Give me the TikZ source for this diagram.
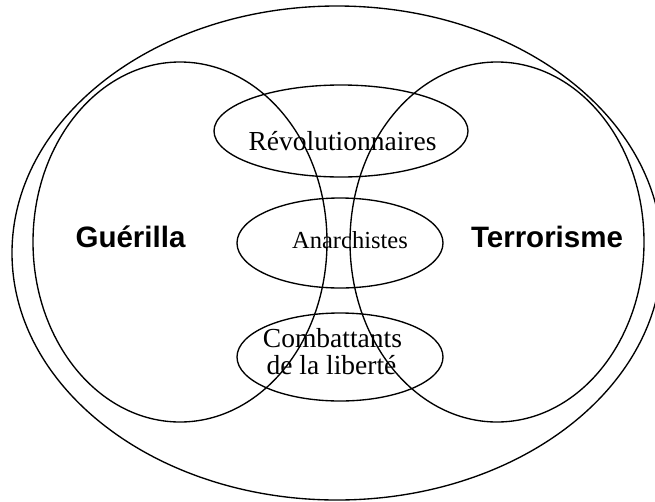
\documentclass[tikz,border=0pt]{standalone}
\usepackage{fontspec}
\setmainfont{Liberation Serif}
\newfontfamily\labelsans{Liberation Sans}
\begin{document}
\begin{tikzpicture}[x=1pt,y=-1pt,
  ring/.style={draw=black,line width=1.35pt},
  serif/.style={inner sep=0pt,anchor=base,font=\fontsize{27.5}{27.5}\selectfont},
  serifsmall/.style={inner sep=0pt,anchor=base,font=\fontsize{24.5}{24.5}\selectfont},
  bigsans/.style={inner sep=0pt,anchor=base,font=\labelsans\bfseries\fontsize{29.5}{29.5}\selectfont}]
\useasboundingbox (0,0) rectangle (655,501);
\clip (0,0) rectangle (655,501);
% outer ellipse
\draw[ring] (337,253) ellipse [x radius=325, y radius=247];
% two large sets
\draw[ring] (180,242) ellipse [x radius=147, y radius=180];
\draw[ring] (497,242) ellipse [x radius=147, y radius=180];
% three small sets
\draw[ring] (341,131) ellipse [x radius=127, y radius=46];
\draw[ring] (340,243) ellipse [x radius=103, y radius=45];
\draw[ring] (340,357) ellipse [x radius=103, y radius=44];
% labels
\node[bigsans] (guer) at (130.5,247) {Guérilla};
\node[bigsans] (terr) at (547,247) {Terrorisme};
\node[serif] (revo) at (342.5,150) {Révolutionnaires};
\node[serifsmall] (anar) at (350,248) {Anarchistes};
\node[serif] (comb) at (332.5,347) {Combattants};
\node[serif] (libe) at (331.5,374) {de la liberté};
\end{tikzpicture}
\end{document}
